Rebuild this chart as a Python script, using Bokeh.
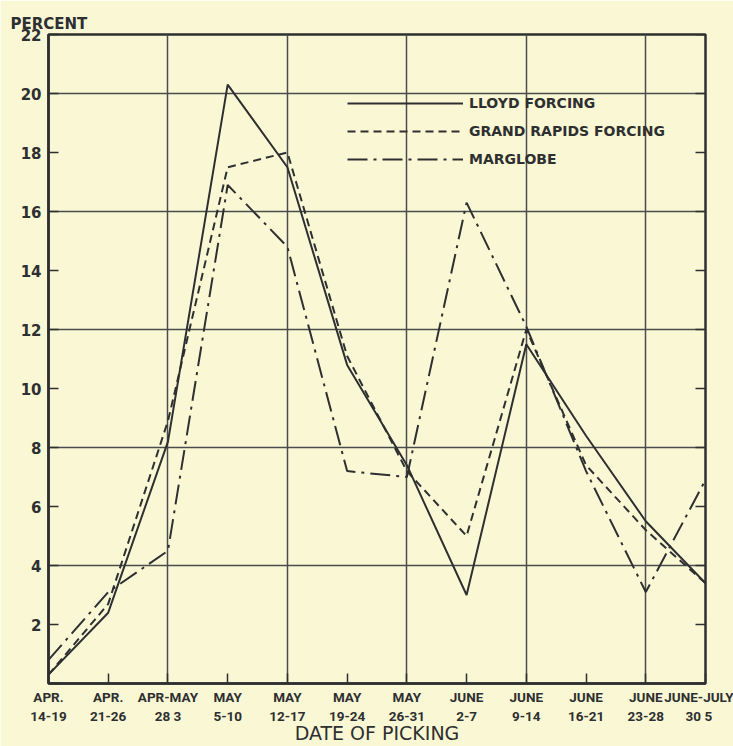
from bokeh.plotting import figure
from bokeh.models import Range1d, FixedTicker, Legend, LegendItem
from bokeh.embed import file_html
from bokeh.resources import INLINE

categories = ["APR.\n14-19", "APR.\n21-26", "APR-MAY\n28 3", "MAY\n5-10", "MAY\n12-17",
              "MAY\n19-24", "MAY\n26-31", "JUNE\n2-7", "JUNE\n9-14", "JUNE\n16-21",
              "JUNE\n23-28", "JUNE-JULY\n30 5"]
lloyd = [0.3, 2.4, 8.2, 20.3, 17.5, 10.8, 7.4, 3.0, 11.5, 8.4, 5.5, 3.4]
grand_rapids = [0.3, 2.7, 8.9, 17.5, 18.0, 11.1, 7.2, 5.0, 12.0, 7.4, 5.2, 3.4]
marglobe = [0.8, 3.1, 4.5, 16.9, 14.8, 7.2, 7.0, 16.3, 12.1, 7.2, 3.1, 6.9]
y_ticks = [0, 2, 4, 6, 8, 10, 12, 14, 16, 18, 20, 22]

BG = "#FAF8D4"
INK = "#2E2F31"
FONT = "DejaVu Sans"
TICKFONT = "Roboto"

xs = list(range(len(categories)))
x_max = len(categories) - 1

p = figure(width=733, height=746, output_backend="svg", toolbar_location=None,
           x_range=Range1d(0, x_max), y_range=Range1d(0, 22),
           min_border_left=48, min_border_right=28, min_border_top=34, min_border_bottom=60,
           background_fill_color=BG, border_fill_color=BG)

p.outline_line_color = INK
p.outline_line_width = 2.5

# title used as the y-axis caption
p.title.text = "PERCENT"
p.title.align = "left"
p.title.offset = -38
p.title.standoff = 4
p.title.text_font = FONT
p.title.text_font_style = "bold"
p.title.text_font_size = "15px"
p.title.text_color = INK

# axes
p.xaxis.ticker = FixedTicker(ticks=xs)
p.xaxis.major_label_overrides = {i: c for i, c in enumerate(categories)}
p.yaxis.ticker = FixedTicker(ticks=y_ticks)
p.yaxis.major_label_overrides = {0: ""}
for ax in (p.xaxis[0], p.yaxis[0]):
    ax.axis_line_color = INK
    ax.axis_line_width = 2.5
    ax.major_tick_in = 10
    ax.major_tick_out = 0
    ax.major_tick_line_color = INK
    ax.major_tick_line_width = 1.5
    ax.minor_tick_line_color = None
    ax.major_label_text_font_style = "bold"
    ax.major_label_text_color = INK
p.xaxis.major_label_text_font = TICKFONT
p.xaxis.major_label_text_font_size = "13.5px"
p.xaxis.major_label_standoff = 5
p.xaxis.major_label_text_line_height = 1.2
p.xaxis.axis_label = "DATE OF PICKING"
p.xaxis.axis_label_text_font = FONT
p.xaxis.axis_label_text_font_style = "normal"
p.xaxis.axis_label_text_font_size = "19px"
p.xaxis.axis_label_text_color = INK
p.xaxis.axis_label_standoff = -5
p.yaxis.major_label_text_font = FONT
p.yaxis.major_label_text_font_size = "15px"
p.yaxis.major_label_standoff = 7

# inward tick marks on the right border
tick_len = 10 / 59.7
p.segment(x0=[x_max] * len(y_ticks), y0=y_ticks, x1=[x_max - tick_len] * len(y_ticks),
          y1=y_ticks, line_color=INK, line_width=1.5)

# grid
p.xgrid.ticker = FixedTicker(ticks=[2, 4, 6, 8, 10])
p.ygrid.ticker = FixedTicker(ticks=[4, 8, 12, 16, 20])
p.xgrid.grid_line_color = "#4A4B4D"
p.ygrid.grid_line_color = "#4A4B4D"
p.xgrid.grid_line_width = 1.5
p.ygrid.grid_line_width = 1.5

r1 = p.line(xs, lloyd, line_color=INK, line_width=2)
r2 = p.line(xs, grand_rapids, line_color=INK, line_width=2, line_dash="8 5")
r3 = p.line(xs, marglobe, line_color=INK, line_width=2, line_dash="20 6 3 6")

legend = Legend(items=[LegendItem(label="LLOYD FORCING", renderers=[r1]),
                       LegendItem(label="GRAND RAPIDS FORCING", renderers=[r2]),
                       LegendItem(label="MARGLOBE", renderers=[r3])],
                location=(299, 510), glyph_width=116, glyph_height=28, label_height=28,
                label_standoff=6, spacing=0, padding=0, margin=0,
                border_line_color=None, background_fill_alpha=0,
                label_text_font=FONT, label_text_font_style="bold",
                label_text_font_size="14px", label_text_color=INK)
p.add_layout(legend, "center")

open("out.html", "w").write(file_html(p, INLINE))
